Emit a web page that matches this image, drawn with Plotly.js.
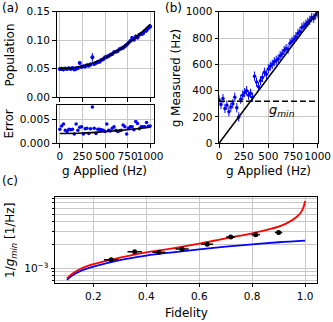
<!DOCTYPE html>
<html>
<head>
<meta charset="utf-8">
<script src="https://cdn.plot.ly/plotly-3.0.1.min.js"></script>
<style>
  html, body { margin: 0; padding: 0; background: #fff; }
  #chart { width: 333px; height: 322px; }
</style>
</head>
<body>
<div id="chart"></div>
<script>
// Applied field values (Hz), shared by panels (a) and (b)
const gApplied = [0, 20, 40, 60, 80, 100, 120, 140, 160, 180, 200, 220, 240, 260, 280, 300, 320, 340, 360, 380,
  400, 420, 440, 460, 480, 500, 520, 540, 560, 580, 600, 620, 640, 660, 680, 700, 720, 740, 760, 780,
  800, 820, 840, 860, 880, 900, 920, 940, 960, 980, 1000];

// (a) population and its error
const population = [0.0495, 0.0500, 0.0492, 0.0505, 0.0498, 0.0508, 0.0494, 0.0512, 0.0488, 0.0502,
  0.0515, 0.0600, 0.0530, 0.0545, 0.0538, 0.0560, 0.0552, 0.0575, 0.0700, 0.0582,
  0.0600, 0.0618, 0.0625, 0.0655, 0.0665, 0.0700, 0.0708, 0.0725, 0.0745, 0.0758,
  0.0790, 0.0800, 0.0812, 0.0840, 0.0855, 0.0870, 0.0895, 0.0920, 0.0955, 0.0985,
  0.1040, 0.1010, 0.1060, 0.1050, 0.1095, 0.1110, 0.1120, 0.1160, 0.1175, 0.1215, 0.1240];
const popError = [0.0029, 0.0036, 0.0040, 0.0027, 0.0024, 0.0029, 0.0028, 0.0029, 0.0019, 0.0040,
  0.0027, 0.0033, 0.0034, 0.0019, 0.0030, 0.0031, 0.0020, 0.0030, 0.0076, 0.0031,
  0.0020, 0.0029, 0.0029, 0.0028, 0.0027, 0.0024, 0.0040, 0.0027, 0.0025, 0.0031,
  0.0034, 0.0027, 0.0024, 0.0026, 0.0027, 0.0038, 0.0034, 0.0019, 0.0031, 0.0034,
  0.0034, 0.0028, 0.0045, 0.0041, 0.0030, 0.0034, 0.0034, 0.0034, 0.0043, 0.0035, 0.0036];

// (a) fitted curves
const fitG = [0, 100, 200, 300, 400, 500, 600, 700, 800, 900, 1000];
const fitPop = [0.0500, 0.0508, 0.0531, 0.0570, 0.0625, 0.0695, 0.0781, 0.0882, 0.0999, 0.1132, 0.1280];
const fitErrG = [0, 250, 500, 750, 1000];
const fitErr = [0.0020, 0.0021, 0.0024, 0.0028, 0.0033];

// (b) measured field
const gMeasured = [330, 295, 340, 265, 290, 240, 275, 300, 350, 270,
  200, 335, 365, 385, 400, 365, 380, 350, 510, 465,
  430, 475, 500, 540, 525, 565, 585, 600, 620, 630,
  640, 665, 680, 705, 720, 715, 760, 775, 790, 810,
  835, 850, 880, 890, 905, 920, 935, 955, 950, 975, 985];
const idealLine = [0, 1000];
const gMin = 320;

// (c) sensitivity vs fidelity
const fidBlue = [0.1, 0.12, 0.15, 0.2, 0.3, 0.4, 0.5, 0.6, 0.7, 0.8, 0.9, 1.0];
const invBlue = [7.1e-4, 8.1e-4, 9.2e-4, 1.05e-3, 1.28e-3, 1.46e-3, 1.61e-3, 1.76e-3, 1.90e-3, 2.04e-3, 2.17e-3, 2.28e-3];
const fidRed = [0.1, 0.12, 0.15, 0.2, 0.3, 0.4, 0.5, 0.6, 0.7, 0.8, 0.87, 0.93, 0.97, 0.99, 1.0];
const invRed = [7.4e-4, 8.5e-4, 9.8e-4, 1.13e-3, 1.37e-3, 1.61e-3, 1.81e-3, 2.08e-3, 2.44e-3, 2.83e-3, 3.22e-3, 3.81e-3, 4.66e-3, 5.68e-3, 7.4e-3];
const fidData = [0.267, 0.356, 0.447, 0.535, 0.630, 0.719, 0.813, 0.900];
const invData = [1.29e-3, 1.64e-3, 1.61e-3, 1.78e-3, 2.04e-3, 2.54e-3, 2.72e-3, 2.89e-3];
const fidErr = [0.027, 0.027, 0.024, 0.025, 0.022, 0.017, 0.016, 0.014];

// tick labels
const gTicks = [0, 250, 500, 750, 1000];
const popTicks = [0, 0.05, 0.10, 0.15];
const errTicks = [0, 0.005];
const measTicks = [0, 200, 400, 600, 800, 1000];
const fidTicks = [0.2, 0.4, 0.6, 0.8, 1.0];
const logMajor = [1e-3];
const logMajorText = ['10<sup>\u22123</sup>'];
const logMinor = [7e-4, 8e-4, 9e-4, 2e-3, 3e-3, 4e-3, 5e-3, 6e-3, 7e-3, 8e-3];

const font = 'DejaVu Sans, sans-serif';

const traces = [
  {x: gApplied, y: population, xaxis: 'x', yaxis: 'y', mode: 'markers', type: 'scatter',
   marker: {color: '#0000ff', size: 4},
   error_y: {type: 'data', array: popError, color: '#0000ff', thickness: 1, width: 0}},
  {x: fitG, y: fitPop, xaxis: 'x', yaxis: 'y', mode: 'lines', line: {color: 'black', width: 1.6, shape: 'spline'}},
  {x: gApplied, y: popError, xaxis: 'x2', yaxis: 'y2', mode: 'markers', marker: {color: '#0000ff', size: 3.5}},
  {x: fitErrG, y: fitErr, xaxis: 'x2', yaxis: 'y2', mode: 'lines', line: {color: 'black', width: 1.6, shape: 'spline'}},
  {x: gApplied, y: gMeasured, xaxis: 'x3', yaxis: 'y3', mode: 'markers', marker: {color: '#0000ff', size: 3.5},
   error_y: {type: 'constant', value: 35, color: '#0000ff', thickness: 1, width: 0},
   error_x: {type: 'constant', value: 10, color: '#0000ff', thickness: 1, width: 0}},
  {x: idealLine, y: idealLine, xaxis: 'x3', yaxis: 'y3', mode: 'lines', line: {color: 'black', width: 1.6}},
  {x: idealLine, y: [gMin, gMin], xaxis: 'x3', yaxis: 'y3', mode: 'lines', line: {color: 'black', width: 1.6, dash: '6px,3px'}},
  {x: fidBlue, y: invBlue, xaxis: 'x4', yaxis: 'y4', mode: 'lines', line: {color: '#0000ff', width: 1.8, shape: 'spline'}},
  {x: fidRed, y: invRed, xaxis: 'x4', yaxis: 'y4', mode: 'lines', line: {color: '#ff0000', width: 1.8, shape: 'spline'}},
  {x: fidData, y: invData, xaxis: 'x4', yaxis: 'y4', mode: 'markers', marker: {color: 'black', size: 5},
   error_x: {type: 'data', array: fidErr, color: 'black', thickness: 1.5, width: 0}}
];

const axBase = {
  showline: true, mirror: true, linecolor: 'black', linewidth: 1,
  ticks: 'outside', ticklen: 3.5, tickwidth: 1, tickcolor: 'black',
  showgrid: true, gridcolor: '#c8c8c8', gridwidth: 1, zeroline: false,
  tickfont: {family: font, size: 10.5, color: 'black'}, tickangle: 0, fixedrange: true
};

const layout = {
  width: 333, height: 322,
  margin: {l: 0, r: 0, t: 0, b: 0},
  paper_bgcolor: 'white', plot_bgcolor: 'white',
  showlegend: false,
  font: {family: font, color: 'black'},
  xaxis: Object.assign({}, axBase, {domain: [0.1697, 0.461], anchor: 'y', range: [-37, 1037],
    tickmode: 'array', tickvals: gTicks, showticklabels: false}),
  yaxis: Object.assign({}, axBase, {domain: [0.6978, 0.9637], anchor: 'x', range: [0, 0.15],
    tickmode: 'array', tickvals: popTicks, tickformat: '.2f'}),
  xaxis2: Object.assign({}, axBase, {domain: [0.1697, 0.461], anchor: 'y2', range: [-37, 1037],
    tickmode: 'array', tickvals: gTicks}),
  yaxis2: Object.assign({}, axBase, {domain: [0.5559, 0.6739], anchor: 'x2', range: [0, 0.008],
    tickmode: 'array', tickvals: errTicks, tickformat: '.3f'}),
  xaxis3: Object.assign({}, axBase, {domain: [0.6577, 0.954], anchor: 'y3', range: [0, 1000],
    tickmode: 'array', tickvals: gTicks}),
  yaxis3: Object.assign({}, axBase, {domain: [0.555, 0.9637], anchor: 'x3', range: [0, 1000],
    tickmode: 'array', tickvals: measTicks}),
  xaxis4: Object.assign({}, axBase, {domain: [0.1652, 0.952], anchor: 'y4', range: [0.055, 1.045],
    tickmode: 'array', tickvals: fidTicks, tickformat: '.1f'}),
  yaxis4: Object.assign({}, axBase, {domain: [0.122, 0.3873], anchor: 'x4', type: 'log', range: [-3.186, -2.083],
    tickmode: 'array', tickvals: logMajor, ticktext: logMajorText,
    minor: {tickmode: 'array', tickvals: logMinor, ticks: 'outside', ticklen: 2, tickcolor: 'black',
      showgrid: true, gridcolor: '#c8c8c8', gridwidth: 1}}),
  annotations: [
    {text: '(a)', x: 0.0315, y: 0.975},
    {text: '(b)', x: 0.521, y: 0.975},
    {text: '(c)', x: 0.0315, y: 0.438},
    {text: 'Population', x: 0.030, y: 0.8307, textangle: -90},
    {text: 'Error', x: 0.0285, y: 0.6149, textangle: -90},
    {text: 'g Measured (Hz)', x: 0.528, y: 0.7593, textangle: -90},
    {text: '1/<i>g</i><sub><i>min</i></sub> [1/Hz]', x: 0.033, y: 0.2547, textangle: -90},
    {text: 'g Applied (Hz)', x: 0.3153, y: 0.469},
    {text: 'g Applied (Hz)', x: 0.8058, y: 0.469},
    {text: 'Fidelity', x: 0.5586, y: 0.0295},
    {text: '<i>g</i><sub><i>min</i></sub>', x: 640, y: 250, xref: 'x3', yref: 'y3', font: {family: font, size: 13, color: 'black'}}
  ].map(a => Object.assign({xref: 'paper', yref: 'paper', showarrow: false, xanchor: 'center', yanchor: 'middle',
    font: {family: font, size: 12, color: 'black'}}, a))
};

Plotly.newPlot('chart', traces, layout, {staticPlot: true, displayModeBar: false});
</script>
</body>
</html>
